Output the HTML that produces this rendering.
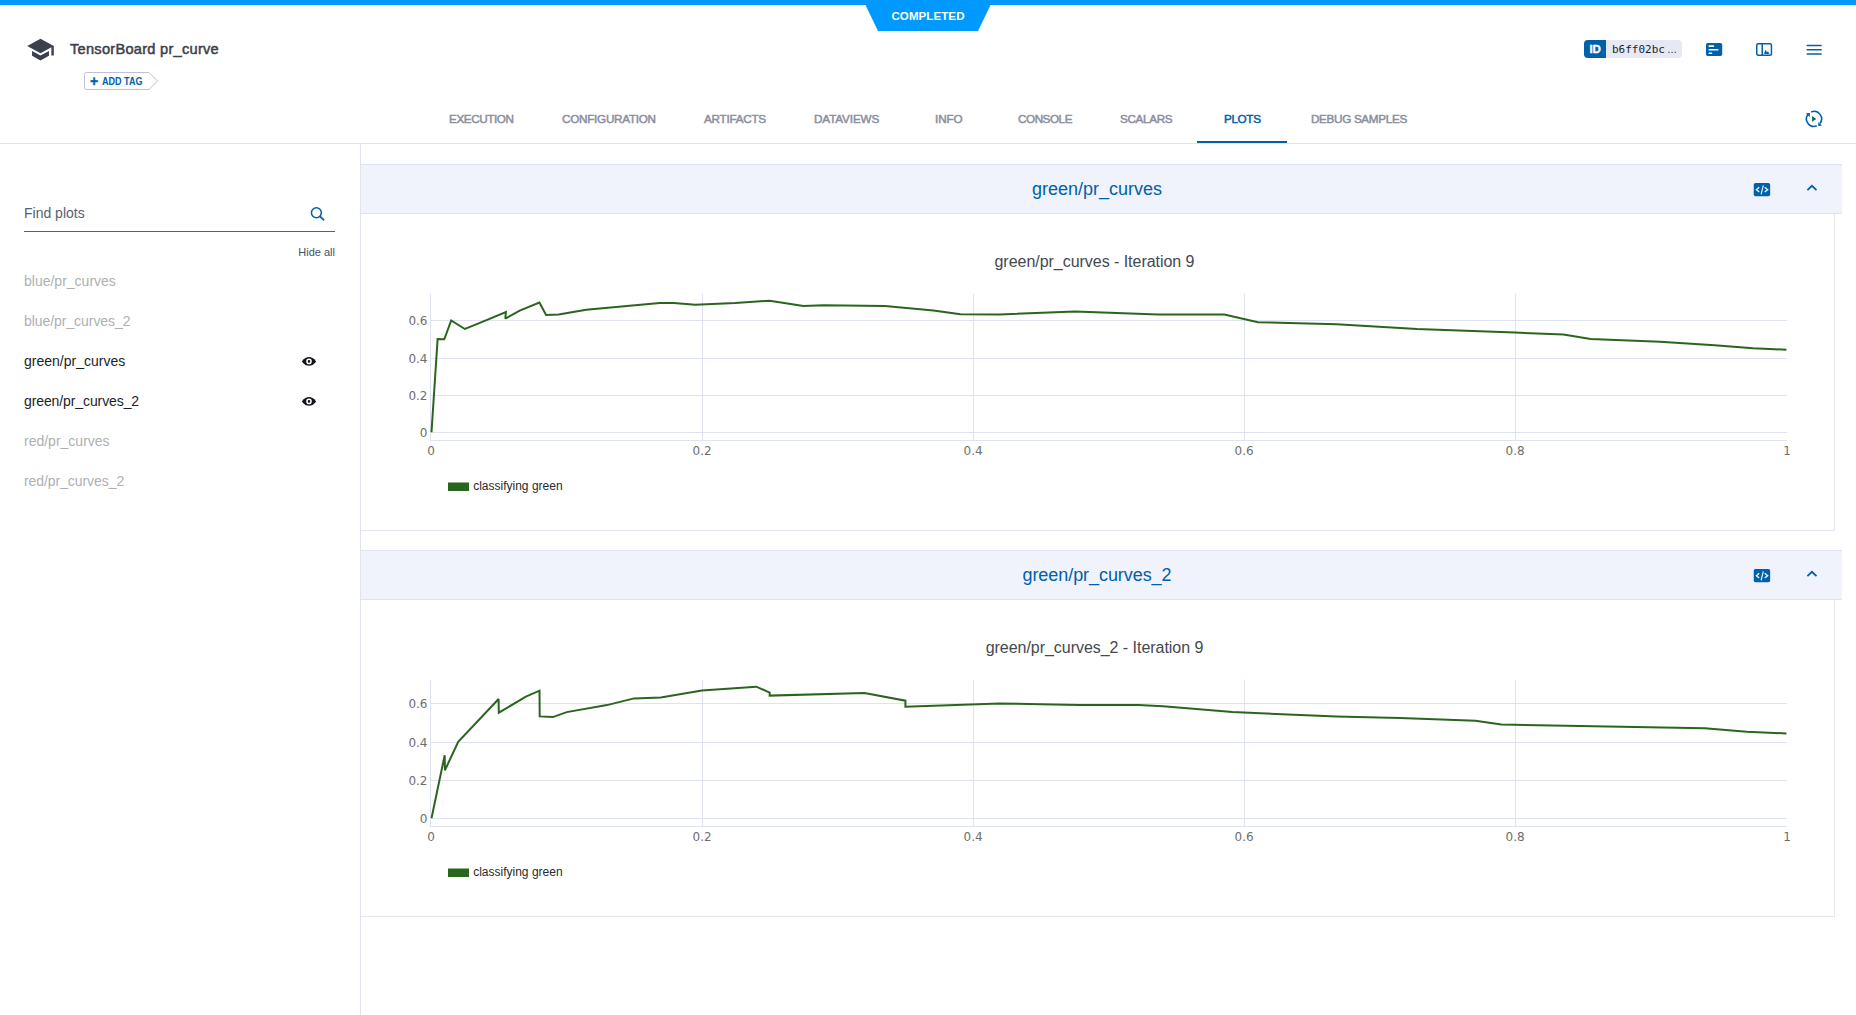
<!DOCTYPE html>
<html lang="en">
<head>
<meta charset="utf-8">
<title>TensorBoard pr_curve</title>
<style>
html,body{margin:0;padding:0;}
body{width:1856px;height:1015px;overflow:hidden;background:#fff;position:relative;font-family:"Liberation Sans",sans-serif;color:#3a3f4d;}
.abs{position:absolute;}
.t{position:absolute;white-space:nowrap;line-height:1;}
#topbar{left:0;top:0;width:1856px;height:5px;background:#0099ff;}
#status{left:866px;top:4px;width:124px;height:27px;}
#status-text{left:866px;width:124px;top:10.600px;text-align:center;color:#fff;font-weight:bold;font-size:11.5px;letter-spacing:0.1px;}
#title{left:70px;top:42.2px;font-size:14.6px;font-weight:normal;-webkit-text-stroke:0.5px #3c404d;color:#3c404d;letter-spacing:0.27px;}
#hdrline{left:0;top:143px;width:1856px;height:1px;background:#e0e3ef;}
.tab{position:absolute;top:112.6px;font-size:11.7px;line-height:1;color:#8b8f9e;-webkit-text-stroke:0.5px #8b8f9e;white-space:nowrap;font-weight:normal;}
.tab.active{color:#0060a9;-webkit-text-stroke:0.5px #0060a9;}
#tabline{left:1197px;top:141px;width:90px;height:2px;background:#0060a9;}
#sidebar-border{left:360px;top:144px;width:1px;height:871px;background:#e0e3ef;}
.li{position:absolute;left:24px;font-size:14px;line-height:1;white-space:nowrap;color:#aeb0b5;}
.li.on{color:#1c1e26;}
.sec{position:absolute;left:361px;width:1481px;height:48px;background:#f0f3fc;border-top:1px solid #dfe3f0;border-bottom:1px solid #dfe3f0;}
.sec-title{position:absolute;left:361px;width:1472px;text-align:center;font-size:18px;line-height:1;color:#0060a9;white-space:nowrap;}
.card{position:absolute;left:361px;width:1473px;border-right:1px solid #e3e6f0;border-bottom:1px solid #e3e6f0;}
.ptitle{position:absolute;left:361px;width:1467px;text-align:center;font-size:16px;letter-spacing:-0.035px;line-height:1;color:#444851;white-space:nowrap;}
svg text{font-family:"DejaVu Sans","Liberation Sans",sans-serif;}
</style>
</head>
<body>
<div id="topbar" class="abs"></div>
<svg id="status" class="abs" viewBox="0 0 124 27" style="overflow:visible"><polygon points="-1,0 125,0 112,27 12,27" fill="#0099ff"/></svg>
<div id="status-text" class="t">COMPLETED</div>

<!-- header left -->
<svg class="abs" style="left:26px;top:35px" width="29" height="29" viewBox="0 0 24 24"><path fill="#3c404d" d="M5 13.18v4L12 21l7-3.82v-4L12 17l-7-3.82zM12 3L1 9l11 6 9-4.91V17h2V9L12 3z"/></svg>
<div id="title" class="t">TensorBoard pr_curve</div>
<svg class="abs" style="left:83px;top:71px" width="77" height="20" viewBox="0 0 77 20"><path d="M3.5 1.5 H66 L74.5 10 L66 18.500 H3.500 Q1.500 18.500 1.500 16.500 V3.500 Q1.500 1.500 3.500 1.500 Z" fill="#fff" stroke="#bcc1d4" stroke-width="1"/></svg>
<div class="t" style="left:90px;top:73.700px;font-size:14px;font-weight:bold;color:#0060a9;-webkit-text-stroke:0.3px #0060a9;">+</div>
<div class="t" style="left:101.500px;top:76px;font-size:10.5px;font-weight:bold;color:#0060a9;transform-origin:0 0;transform:scaleX(0.86)">ADD TAG</div>

<!-- header right -->
<div class="abs" style="left:1584px;top:40px;width:98px;height:18px;border-radius:4px;background:#e6e9f5;overflow:hidden"><div class="abs" style="left:0;top:0;width:22px;height:18px;background:#0060a9"></div></div>
<div class="t" style="left:1589.400px;top:43.600px;font-size:11.5px;font-weight:bold;color:#fff;-webkit-text-stroke:0.35px #fff;">ID</div>
<div class="t" style="left:1612px;top:43.700px;font-family:'DejaVu Sans Mono','Liberation Mono',monospace;font-size:11px;color:#1b1d26;">b6ff02bc<span style="font-family:'Liberation Sans',sans-serif;margin-left:2px;font-size:10px">…</span></div>

<!-- ICONS -->
<svg class="abs" style="left:0;top:0" width="1856" height="160" viewBox="0 0 1856 160">
<rect x="1706" y="43" width="16.2" height="13" rx="1.800" fill="#0060a9"/>
<rect x="1708.400" y="45.3" width="5.800" height="1.700" rx="0.800" fill="#fff"/>
<rect x="1708.400" y="48.9" width="10.2" height="1.700" rx="0.800" fill="#fff"/>
<rect x="1708.400" y="52.4" width="3.900" height="1.700" rx="0.800" fill="#fff"/>
<rect x="1756.750" y="43.750" width="14.700" height="11.500" rx="1.500" fill="#fff" stroke="#0060a9" stroke-width="1.500"/>
<rect x="1761.500" y="43.500" width="1.500" height="12" fill="#0060a9"/>
<path d="M1764.300 53.900 V52.500 L1765.700 49.700 L1766.900 52.200 L1768 51.300 L1769.400 53.900 Z" fill="#0060a9"/>
<g stroke="#0060a9" stroke-width="1.500" stroke-linecap="round"><line x1="1807.200" y1="45.550" x2="1821.100" y2="45.550"/><line x1="1807.200" y1="49.700" x2="1821.100" y2="49.700"/><line x1="1807.200" y1="53.950" x2="1821.100" y2="53.950"/></g>
<g fill="none" stroke="#0060a9" stroke-width="1.600" stroke-linecap="butt"><path d="M1811.19 111.95 A7.5 7.5 0 0 1 1819.91 123.52"/><path d="M1816.81 125.85 A7.5 7.5 0 0 1 1808.09 114.28"/></g>
<polygon points="1818.200,122.200 1818.300,125.900 1822,125.700" fill="#0060a9"/>
<polygon points="1805.900,113.300 1809.900,113.100 1809.800,116.900" fill="#0060a9"/>
<polygon points="1812.100,116.100 1812.100,121.800 1816.300,118.950" fill="#006b50"/>
</svg>
<!-- /ICONS -->
<!-- tabs -->
<div class="tab" style="left:449px;letter-spacing:-0.42px">EXECUTION</div>
<div class="tab" style="left:562px;letter-spacing:-0.26px">CONFIGURATION</div>
<div class="tab" style="left:704px;letter-spacing:-0.24px">ARTIFACTS</div>
<div class="tab" style="left:814px;letter-spacing:-0.12px">DATAVIEWS</div>
<div class="tab" style="left:935px;letter-spacing:-0.1px">INFO</div>
<div class="tab" style="left:1018px;letter-spacing:-0.45px">CONSOLE</div>
<div class="tab" style="left:1120px;letter-spacing:-0.33px">SCALARS</div>
<div class="tab active" style="left:1224px;letter-spacing:-0.35px">PLOTS</div>
<div class="tab" style="left:1311px;letter-spacing:-0.32px">DEBUG SAMPLES</div>
<div id="tabline" class="abs"></div>
<div id="hdrline" class="abs"></div>

<!-- sidebar -->
<div id="sidebar-border" class="abs"></div>
<div class="t" style="left:24px;top:206px;font-size:14px;color:#5a6070;">Find plots</div>
<div class="abs" style="left:24px;top:231px;width:311px;height:1px;background:#5a6070"></div>
<div class="t" style="left:235px;width:100px;text-align:right;top:247px;font-size:11px;color:#4a4f5e;">Hide all</div>
<div class="li" style="top:274px">blue/pr_curves</div>
<div class="li" style="top:314px;letter-spacing:-0.06px">blue/pr_curves_2</div>
<div class="li on" style="top:354px">green/pr_curves</div>
<div class="li on" style="top:394px;letter-spacing:-0.1px">green/pr_curves_2</div>
<div class="li" style="top:434px">red/pr_curves</div>
<div class="li" style="top:474px;letter-spacing:-0.07px">red/pr_curves_2</div>

<!-- SIDEICONS -->
<svg class="abs" style="left:290px;top:200px" width="50" height="220" viewBox="290 200 50 220">
<circle cx="316.400" cy="212.800" r="4.950" fill="none" stroke="#0060a9" stroke-width="1.500"/>
<line x1="320.100" y1="216.500" x2="323.700" y2="219.800" stroke="#0060a9" stroke-width="1.700" stroke-linecap="round"/>
<path d="M301.800 361.4 C304.300 358.09999999999997 306.700 357.09999999999997 309 357.09999999999997 C311.300 357.09999999999997 313.700 358.09999999999997 316.200 361.4 C313.700 364.7 311.300 365.7 309 365.7 C306.700 365.7 304.300 364.7 301.800 361.4 Z" fill="#14151a"/><circle cx="309" cy="361.4" r="2.050" fill="none" stroke="#fff" stroke-width="1.500"/>
<path d="M301.800 401.4 C304.300 398.09999999999997 306.700 397.09999999999997 309 397.09999999999997 C311.300 397.09999999999997 313.700 398.09999999999997 316.200 401.4 C313.700 404.7 311.300 405.7 309 405.7 C306.700 405.7 304.300 404.7 301.800 401.4 Z" fill="#14151a"/><circle cx="309" cy="401.4" r="2.050" fill="none" stroke="#fff" stroke-width="1.500"/>
</svg>
<!-- /SIDEICONS -->
<!-- section 1 -->
<div class="sec" style="top:164px"></div>
<div class="sec-title" style="top:180px">green/pr_curves</div>
<div class="card" style="top:214px;height:316px"></div>
<div class="ptitle" style="top:254px">green/pr_curves - Iteration 9</div>

<!-- section 2 -->
<div class="sec" style="top:550px"></div>
<div class="sec-title" style="top:566px;letter-spacing:-0.06px">green/pr_curves_2</div>
<div class="card" style="top:600px;height:316px"></div>
<div class="ptitle" style="top:640px">green/pr_curves_2 - Iteration 9</div>

<!-- SECICONS -->
<svg class="abs" style="left:1740px;top:160px" width="100" height="440" viewBox="1740 160 100 440">
<g transform="translate(0,0)">
<rect x="1753.750" y="182.9" width="16.400" height="13.400" rx="1.800" fill="#0060a9"/>
<g fill="none" stroke="#eaf0fa" stroke-width="1.400"><polyline points="1759.200,187.300 1756.400,189.650 1759.200,192"/><polyline points="1764.700,187.300 1767.700,189.650 1764.700,192"/><line x1="1763.300" y1="185.300" x2="1761.100" y2="194.400" stroke-width="1.200"/></g>
<polyline points="1807.400,190.200 1811.950,185.800 1816.500,190.200" fill="none" stroke="#0060a9" stroke-width="1.800"/>
</g>
<g transform="translate(0,386)">
<rect x="1753.750" y="182.9" width="16.400" height="13.400" rx="1.800" fill="#0060a9"/>
<g fill="none" stroke="#eaf0fa" stroke-width="1.400"><polyline points="1759.200,187.300 1756.400,189.650 1759.200,192"/><polyline points="1764.700,187.300 1767.700,189.650 1764.700,192"/><line x1="1763.300" y1="185.300" x2="1761.100" y2="194.400" stroke-width="1.200"/></g>
<polyline points="1807.400,190.200 1811.950,185.800 1816.500,190.200" fill="none" stroke="#0060a9" stroke-width="1.800"/>
</g>
</svg>
<!-- /SECICONS -->
<!-- CHARTS -->
<svg class="abs" style="left:0;top:0" width="1856" height="1015" viewBox="0 0 1856 1015">
<rect x="702" y="294" width="1" height="146" fill="#dfe2f0"/>
<rect x="973" y="294" width="1" height="146" fill="#dfe2f0"/>
<rect x="1244" y="294" width="1" height="146" fill="#dfe2f0"/>
<rect x="1515" y="294" width="1" height="146" fill="#dfe2f0"/>
<rect x="431" y="432" width="1356" height="1" fill="#dfe2f0"/>
<rect x="431" y="395" width="1356" height="1" fill="#dfe2f0"/>
<rect x="431" y="358" width="1356" height="1" fill="#dfe2f0"/>
<rect x="431" y="320" width="1356" height="1" fill="#dfe2f0"/>
<rect x="430" y="294" width="1" height="147" fill="#dfe2f0"/>
<rect x="430" y="440" width="1357" height="1" fill="#dfe2f0"/>
<polyline fill="none" stroke="#2a651e" stroke-width="2" stroke-linejoin="miter" stroke-miterlimit="2" points="431.5,432.3 437.6,339.1 444.3,339.3 451.2,320.5 464.9,329 478,323.6 505.9,312 505.3,318.7 519.7,310.7 539.4,302.6 546.1,315 558.7,314.4 586.2,309.8 659.7,302.9 673.7,302.9 695.3,304.8 735.2,303.1 769.7,300.7 803.5,305.9 823.5,305.3 885,306.1 933.4,310.4 960.4,314.3 999.5,314.5 1075,311.5 1158,314.5 1224.3,314.5 1258,322.2 1336.5,324.2 1417,329.1 1515,332.6 1563.4,334.6 1590.7,339 1660,341.8 1714.6,345.2 1753,348.2 1786.4,349.7"/>
<text x="427.5" y="436.9" text-anchor="end" font-size="12" fill="#6e6e6e">0</text>
<text x="427.5" y="399.9" text-anchor="end" font-size="12" fill="#6e6e6e">0.2</text>
<text x="427.5" y="362.9" text-anchor="end" font-size="12" fill="#6e6e6e">0.4</text>
<text x="427.5" y="324.9" text-anchor="end" font-size="12" fill="#6e6e6e">0.6</text>
<text x="431" y="455" text-anchor="middle" font-size="12" fill="#6e6e6e">0</text>
<text x="702.1" y="455" text-anchor="middle" font-size="12" fill="#6e6e6e">0.2</text>
<text x="973.1" y="455" text-anchor="middle" font-size="12" fill="#6e6e6e">0.4</text>
<text x="1244.1" y="455" text-anchor="middle" font-size="12" fill="#6e6e6e">0.6</text>
<text x="1515.1" y="455" text-anchor="middle" font-size="12" fill="#6e6e6e">0.8</text>
<text x="1787" y="455" text-anchor="middle" font-size="12" fill="#6e6e6e">1</text>
<rect x="448" y="482.5" width="21" height="8.500" fill="#2a651e"/>
<text x="473.200" y="489.7" font-size="12" fill="#2a2a2a" style="font-family:'Liberation Sans',sans-serif">classifying green</text>
<rect x="702" y="680" width="1" height="146" fill="#dfe2f0"/>
<rect x="973" y="680" width="1" height="146" fill="#dfe2f0"/>
<rect x="1244" y="680" width="1" height="146" fill="#dfe2f0"/>
<rect x="1515" y="680" width="1" height="146" fill="#dfe2f0"/>
<rect x="431" y="818" width="1356" height="1" fill="#dfe2f0"/>
<rect x="431" y="780" width="1356" height="1" fill="#dfe2f0"/>
<rect x="431" y="742" width="1356" height="1" fill="#dfe2f0"/>
<rect x="431" y="703" width="1356" height="1" fill="#dfe2f0"/>
<rect x="430" y="680" width="1" height="147" fill="#dfe2f0"/>
<rect x="430" y="826" width="1357" height="1" fill="#dfe2f0"/>
<polyline fill="none" stroke="#2a651e" stroke-width="2" stroke-linejoin="miter" stroke-miterlimit="2" points="431.5,818.3 444.7,755.2 444.9,770.3 458.2,741.9 498.6,699 498.8,712.7 525.9,696.7 539.5,690.7 539.7,716.4 552.8,717.1 566.7,712.1 607,705.1 634,698.4 660.8,697.5 701.8,690.6 756.3,686.7 769.7,692.6 769.7,695.6 864.5,693 905.4,700.7 905.4,706.8 999.5,703.5 1078.8,705 1138.3,705 1163,706.2 1232.4,712.1 1336.5,716.4 1400,718.0 1475.4,720.8 1501.4,724.5 1704.7,728.2 1746.8,731.7 1786.4,733.5"/>
<text x="427.5" y="822.9" text-anchor="end" font-size="12" fill="#6e6e6e">0</text>
<text x="427.5" y="784.9" text-anchor="end" font-size="12" fill="#6e6e6e">0.2</text>
<text x="427.5" y="746.9" text-anchor="end" font-size="12" fill="#6e6e6e">0.4</text>
<text x="427.5" y="707.9" text-anchor="end" font-size="12" fill="#6e6e6e">0.6</text>
<text x="431" y="841" text-anchor="middle" font-size="12" fill="#6e6e6e">0</text>
<text x="702.1" y="841" text-anchor="middle" font-size="12" fill="#6e6e6e">0.2</text>
<text x="973.1" y="841" text-anchor="middle" font-size="12" fill="#6e6e6e">0.4</text>
<text x="1244.1" y="841" text-anchor="middle" font-size="12" fill="#6e6e6e">0.6</text>
<text x="1515.1" y="841" text-anchor="middle" font-size="12" fill="#6e6e6e">0.8</text>
<text x="1787" y="841" text-anchor="middle" font-size="12" fill="#6e6e6e">1</text>
<rect x="448" y="868.5" width="21" height="8.500" fill="#2a651e"/>
<text x="473.200" y="875.7" font-size="12" fill="#2a2a2a" style="font-family:'Liberation Sans',sans-serif">classifying green</text>
</svg>
<!-- /CHARTS -->
</body>
</html>
